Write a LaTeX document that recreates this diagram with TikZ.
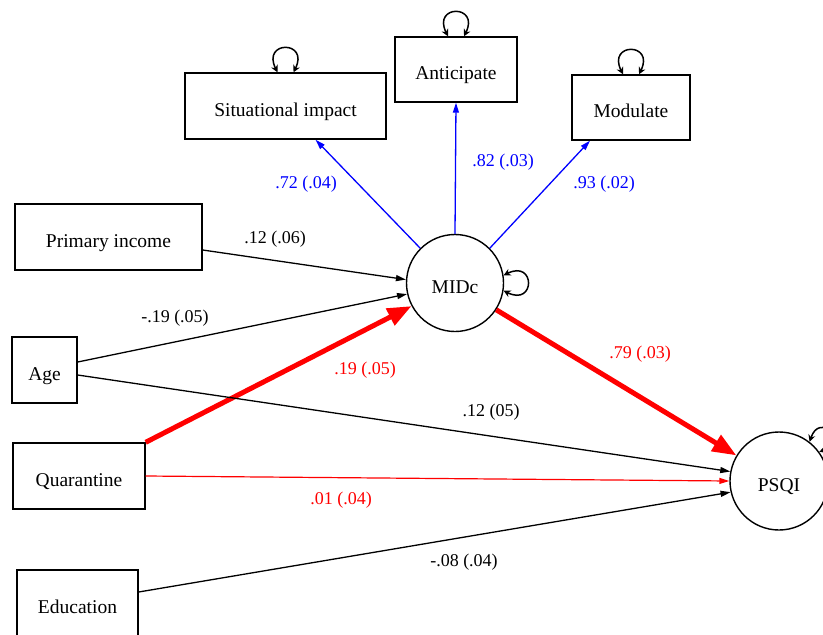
\documentclass[tikz,border=0pt]{standalone}
\usepackage{fontspec}
\setmainfont{Liberation Serif}
\usetikzlibrary{arrows.meta,calc}
\definecolor{pblue}{RGB}{0,0,255}
\definecolor{pred}{RGB}{255,0,0}
\tikzset{
  obsbox/.style={draw,line width=1.4pt,rectangle,inner sep=0pt,text height=20pt,text depth=0pt,font=\fontsize{19.5}{21}\selectfont},
  latent/.style={draw,line width=1.4pt,circle,inner sep=0pt,text height=21pt,text depth=0pt,font=\fontsize{19.5}{21}\selectfont},
  path/.style={line width=1.3pt,-{Triangle[length=10pt,width=6pt]}},
  bigpath/.style={line width=5pt,pred,-{Triangle[length=24pt,width=18pt]}},
  loopy/.style={line width=1.5pt,{Stealth[length=7pt,width=7pt]}-{Stealth[length=7pt,width=7pt]}},
  lab/.style={font=\fontsize{18}{20}\selectfont,inner sep=0pt},
}
\begin{document}
\begin{tikzpicture}[x=1pt,y=-1pt]
\useasboundingbox (0,0) rectangle (823,635);
% nodes
\node[obsbox,minimum width=201pt,minimum height=66pt] (sit) at (285.5,106) {Situational impact};
\node[obsbox,minimum width=122pt,minimum height=65pt] (ant) at (456,69.5) {Anticipate};
\node[obsbox,minimum width=118pt,minimum height=65pt] (mod) at (631,107.5) {Modulate};
\node[obsbox,minimum width=187pt,minimum height=66pt] (pi) at (108.5,237) {Primary income};
\node[obsbox,minimum width=65pt,minimum height=66pt] (age) at (44.5,370) {Age};
\node[obsbox,minimum width=132pt,minimum height=66pt] (quar) at (79,476) {Quarantine};
\node[obsbox,minimum width=121pt,minimum height=66pt] (edu) at (77.5,603) {Education};
\node[latent,minimum size=97pt] (midc) at (455,283) {MIDc};
\node[latent,minimum size=98pt] (psqi) at (779,481) {PSQI};
% self loops
\draw[loopy] ($(sit.north)+(-8,0)$) .. controls +(-16,-32) and +(16,-32) .. ($(sit.north)+(8,0)$);
\draw[loopy] ($(ant.north)+(-8,0)$) .. controls +(-16,-32) and +(16,-32) .. ($(ant.north)+(8,0)$);
\draw[loopy] ($(mod.north)+(-8,0)$) .. controls +(-16,-32) and +(16,-32) .. ($(mod.north)+(8,0)$);
\draw[loopy] (midc.9) .. controls +(32,-16) and +(32,16) .. (midc.-9);
\draw[loopy] (psqi.52) .. controls +(10,-30) and +(30,-10) .. (psqi.36);
% loadings
\draw[path,pblue] (midc.135) -- ($(sit.south)+(30,0)$);
\draw[path,pblue] (midc.90) -- (ant.south);
\draw[path,pblue] (midc.45) -- ($(mod.south)+(-41,0)$);
% paths to MIDc
\draw[path] ($(pi.east)+(0,13)$) -- (midc.176);
\draw[path] ($(age.east)+(0,-8)$) -- (midc.193);
\draw[bigpath] (quar.north east) -- (midc.208);
% paths to PSQI
\draw[bigpath] (midc.327) -- (psqi.149);
\draw[path] ($(age.east)+(0,5)$) -- (psqi.169);
\draw[path,pred,line width=1.2pt] (quar.east) -- (psqi.180);
\draw[path] ($(edu.east)+(0,-11)$) -- (psqi.193);
% labels
\node[lab,pblue] (l1) at (306,184) {.72 (.04)};
\node[lab,pblue] (l2) at (503,162) {.82 (.03)};
\node[lab,pblue] (l3) at (604,184) {.93 (.02)};
\node[lab] (l4) at (275,239) {.12 (.06)};
\node[lab] (l5) at (175,318) {-.19 (.05)};
\node[lab,pred] (l6) at (365,370) {.19 (.05)};
\node[lab,pred] (l7) at (640,354) {.79 (.03)};
\node[lab] (l8) at (491,412) {.12 (05)};
\node[lab,pred] (l9) at (341,500) {.01 (.04)};
\node[lab] (l10) at (464,562) {-.08 (.04)};
\end{tikzpicture}
\end{document}
